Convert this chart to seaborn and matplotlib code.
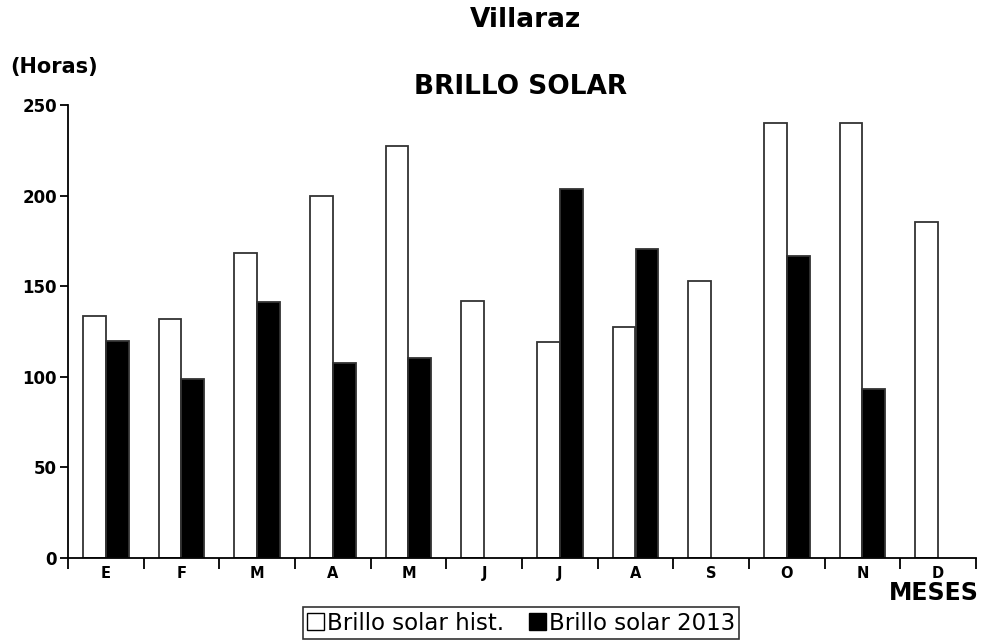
import matplotlib
matplotlib.use("Agg")
import matplotlib.pyplot as plt
import seaborn as sns
import pandas as pd
import numpy as np
from matplotlib.patches import Patch

# ---- data ----
meses = ["E", "F", "M", "A", "M", "J", "J", "A", "S", "O", "N", "D"]
hist = [133.5, 131.8, 168.4, 200.0, 227.3, 142.1, 119.1, 127.6, 153.1, 240.0, 240.0, 185.4]
sol2013 = [119.5, 98.9, 141.3, 107.4, 110.5, np.nan, 203.6, 170.6, np.nan, 166.9, 93.0, np.nan]
series = ["Brillo solar hist.", "Brillo solar 2013"]
yticks = [0, 50, 100, 150, 200, 250]

rows = []
for i in range(len(meses)):
    rows.append({"mes": i, "serie": series[0], "valor": hist[i]})
    rows.append({"mes": i, "serie": series[1], "valor": sol2013[i]})
df = pd.DataFrame(rows).dropna()

sns.set_style("white")
plt.rcParams["font.family"] = ["DejaVu Sans"]
plt.rcParams["text.color"] = "black"
plt.rcParams["xtick.color"] = "black"
plt.rcParams["ytick.color"] = "black"

fig = plt.figure(figsize=(9.84, 6.42), dpi=100)
ax = fig.add_axes([68 / 984, 1 - 558 / 642, (976 - 68) / 984, (558 - 105) / 642])

sns.barplot(data=df, x="mes", y="valor", hue="serie", hue_order=series,
            order=list(range(len(meses))), palette=["white", "black"],
            edgecolor="#333333", linewidth=1.3, width=0.6, errorbar=None,
            legend=False, ax=ax)

ax.set_xlim(-0.5, len(meses) - 0.5)
ax.set_ylim(0, 250)
ax.set_yticks(yticks)
ax.set_yticklabels([str(v) for v in yticks], fontsize=12, fontweight="bold", color="black")
ax.set_xticks(range(len(meses)))
ax.set_xticklabels(meses, fontsize=10.5, fontweight="bold", color="black")
ax.set_xticks(np.arange(-0.5, len(meses), 1), minor=True)
ax.tick_params(axis="x", which="major", bottom=True, length=0, pad=6)
ax.tick_params(axis="x", which="minor", bottom=True, length=8, width=1.3,
               direction="out", color="black")
ax.tick_params(axis="y", which="major", left=True, length=6, width=1.3,
               direction="out", color="black", pad=2)
ax.set_xlabel("")
ax.set_ylabel("")
for s in ["top", "right"]:
    ax.spines[s].set_visible(False)
for s in ["left", "bottom"]:
    ax.spines[s].set_color("black")
    ax.spines[s].set_linewidth(1.3)

fig.text(525 / 984, 1 - 20 / 642, "Villaraz", ha="center", va="center",
         fontsize=19, fontweight="bold", color="black")
fig.text(521 / 984, 1 - 87 / 642, "BRILLO SOLAR", ha="center", va="center",
         fontsize=19, fontweight="bold", color="black")
fig.text(10 / 984, 1 - 67 / 642, "(Horas)", ha="left", va="center",
         fontsize=15, fontweight="bold", color="black")
fig.text(979 / 984, 1 - 593 / 642, "MESES", ha="right", va="center",
         fontsize=17, fontweight="bold", color="black")

handles = [Patch(facecolor="white", edgecolor="black", linewidth=1.0),
           Patch(facecolor="black", edgecolor="black", linewidth=1.0)]
leg = fig.legend(handles=handles, labels=series, loc="center",
                 bbox_to_anchor=(521 / 984, 1 - 623 / 642), ncol=2,
                 frameon=True, fancybox=False, edgecolor="black",
                 handlelength=0.75, handleheight=0.75, handletextpad=0.1,
                 columnspacing=1.1, borderpad=0.2, borderaxespad=0,
                 fontsize=16.5)
leg.get_frame().set_linewidth(1.2)
for t in leg.get_texts():
    t.set_color("black")

fig.savefig("out.png", dpi=100, facecolor="white")
